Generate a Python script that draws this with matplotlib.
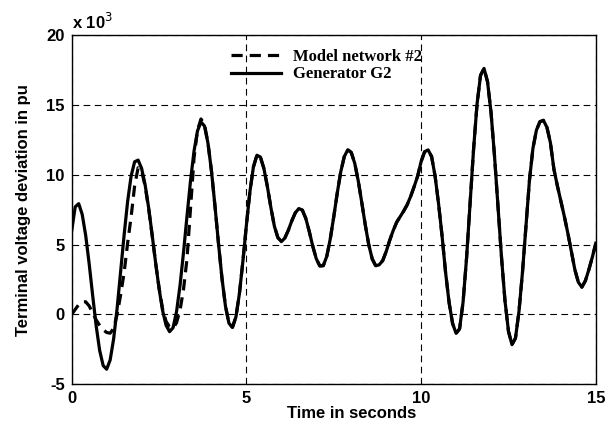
import numpy as np
import matplotlib
matplotlib.use("Agg")
import matplotlib.pyplot as plt

plt.rcParams["axes.unicode_minus"] = False

# time axis, 0.1 s steps
t = np.arange(0, 151) / 10.0

# Generator G2 (values x 10^-3 pu)
generator_g2 = [
    6.0, 7.7, 7.93, 7.16, 5.65, 3.61, 1.34, -0.83, -2.59, -3.67,
    -3.93, -3.27, -1.75, 0.45, 3.04, 5.70, 8.09, 9.91, 10.93, 11.05,
    10.46, 9.29, 7.66, 5.73, 3.72, 1.84, 0.28, -0.78, -1.24, -0.96,
    0.19, 2.07, 4.45, 7.06, 9.57, 11.69, 13.15, 13.78, 13.49, 12.26,
    10.26, 7.76, 5.09, 2.59, 0.59, -0.64, -0.93, -0.18, 1.50, 3.83,
    6.41, 8.79, 10.56, 11.40, 11.27, 10.45, 9.15, 7.65, 6.31, 5.5,
    5.21, 5.47, 6.03, 6.71, 7.28, 7.58, 7.47, 6.87, 5.92, 4.87,
    3.98, 3.47, 3.49, 4.16, 5.41, 7.00, 8.70, 10.22, 11.30, 11.79,
    11.60, 10.82, 9.57, 8.03, 6.43, 5.00, 3.97, 3.48, 3.55, 3.85,
    4.5, 5.3, 6.0, 6.6, 7.0, 7.4, 7.85, 8.45, 9.15, 9.9,
    10.95, 11.65, 11.78, 11.3, 9.9, 7.9, 5.6, 3.0, 0.85, -0.65,
    -1.36, -1.04, 0.87, 4.03, 7.90, 11.80, 15.06, 17.12, 17.62, 16.67,
    14.48, 11.35, 7.73, 4.10, 0.97, -1.22, -2.17, -1.7, 0.2, 3.0,
    6.3, 9.6, 11.9, 13.2, 13.8, 13.9, 13.4, 12.3, 10.4, 9.2,
    8.1, 7.0, 5.8, 4.5, 3.2, 2.3, 1.95, 2.4, 3.2, 4.1,
    5.1,
]

# Model network #2, first 3.8 s (afterwards it lies on the generator curve)
model_start = [
    0.0, 0.35, 0.7, 0.9, 0.9, 0.6, 0.1, -0.4, -0.8, -1.1,
    -1.3, -1.35, -1.0, 0.0, 1.4, 3.0, 5.1, 7.0, 9.2, 10.5,
    10.3, 9.2, 7.6, 5.7, 3.7, 1.9, 0.4, -0.5, -0.9, -1.0,
    -0.6, 0.3, 1.8, 4.0, 7.6, 11.2, 13.2, 14.0, 13.6,
]
model_network = model_start + generator_g2[len(model_start):]

fig = plt.figure(figsize=(6.13, 4.24), dpi=100)
ax = fig.add_axes([0.117, 0.094, 0.855, 0.823])

ax.plot(t, model_network, color="black", lw=2.3, ls=(0, (3.5, 2.2)),
        label="Model network #2")
ax.plot(t, generator_g2, color="black", lw=2.3, label="Generator G2")

ax.set_xlim(0, 15)
ax.set_ylim(-5, 20)
ax.set_xticks([0, 5, 10, 15])
ax.set_yticks([-5, 0, 5, 10, 15, 20])
ax.grid(True, color="black", ls=(0, (6, 4)), lw=0.8)
ax.tick_params(direction="in", length=0, labelsize=12, pad=5)
for lab in ax.get_xticklabels() + ax.get_yticklabels():
    lab.set_fontfamily("Liberation Sans")
    lab.set_fontweight("bold")
for sp in ax.spines.values():
    sp.set_linewidth(1.0)

ax.set_xlabel("Time in seconds", fontfamily="Liberation Sans",
              fontweight="bold", fontsize=12)
ax.xaxis.set_label_coords(0.535, -0.064)
ax.set_ylabel("Terminal voltage deviation in pu", fontfamily="Liberation Sans",
              fontweight="bold", fontsize=12)
ax.yaxis.set_label_coords(-0.078, 0.5)

ax.text(0.0, 1.01, r"x 10$^{3}$", transform=ax.transAxes, ha="left",
        va="bottom", fontfamily="Liberation Sans", fontweight="bold",
        fontsize=12)

ax.legend(loc="upper left", bbox_to_anchor=(0.285, 0.99), frameon=False,
          prop={"family": "Liberation Serif", "weight": "bold", "size": 12},
          handlelength=3.0, handletextpad=0.7, labelspacing=0.1,
          borderaxespad=0.2)

fig.savefig("out.png", dpi=100)
